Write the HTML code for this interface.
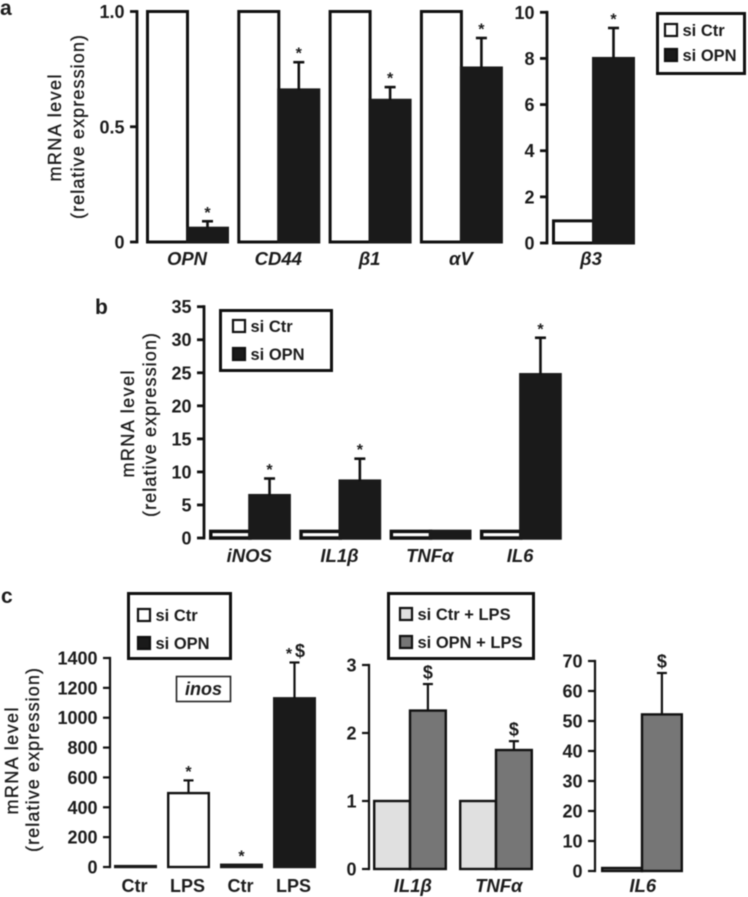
<!DOCTYPE html>
<html lang="en">
<head>
<meta charset="utf-8">
<title>mRNA level chart</title>
<style>
html,body{margin:0;padding:0;background:#fff;width:748px;height:897px;overflow:hidden}
svg{display:block;filter:blur(0.4px)}
text{font-family:"Liberation Sans",sans-serif;font-weight:bold;fill:#1c1c1c}
</style>
</head>
<body>
<svg id="chart" xmlns="http://www.w3.org/2000/svg" width="748" height="897" viewBox="0 0 748 897"></svg>
<script>
/* Panel a, left */
const aCategories = ['OPN', 'CD44', 'β1', 'αV'];
const aTicks = ['0', '0.5', '1.0'];
const aCtr = [1, 1, 1, 1];
const aOpn = [0.06, 0.66, 0.615, 0.755];
const aErr = [0.09, 0.78, 0.672, 0.885];
const aMarks = ['*', '*', '*', '*'];
/* Panel a, right */
const a2Categories = ['β3'];
const a2Ticks = ['0', '2', '4', '6', '8', '10'];
const a2Ctr = [0.96];
const a2Opn = [8.0];
const a2Err = [9.32];
const a2Marks = ['*'];
/* Panel b */
const bCategories = ['iNOS', 'IL1β', 'TNFα', 'IL6'];
const bTicks = ['0', '5', '10', '15', '20', '25', '30', '35'];
const bCtr = [1, 1, 1, 1];
const bOpn = [6.4, 8.6, 1, 24.7];
const bErr = [9, 12, null, 30.3];
const bMarks = ['*', '*', '', '*'];
/* Panel c, left */
const cCategories = ['Ctr', 'LPS', 'Ctr', 'LPS'];
const cTicks = ['0', '200', '400', '600', '800', '1000', '1200', '1400'];
const cValues = [6, 495, 15, 1130];
const cErr = [null, 580, null, 1370];
const cMarks = ['', '*', '*', '*$'];
/* Panel c, middle */
const c2Categories = ['IL1β', 'TNFα'];
const c2Ticks = ['0', '1', '2', '3'];
const c2Ctr = [1, 1];
const c2Opn = [2.33, 1.75];
const c2Err = [2.72, 1.88];
const c2Marks = ['$', '$'];
/* Panel c, right */
const c3Categories = ['IL6'];
const c3Ticks = ['0', '10', '20', '30', '40', '50', '60', '70'];
const c3Ctr = [1];
const c3Opn = [52.2];
const c3Err = [66];
const c3Marks = ['$'];

const svg = document.getElementById('chart');
const NS = 'http://www.w3.org/2000/svg';

function mk(tag, attrs, name, parent) {
  const el = document.createElementNS(NS, tag);
  for (const k in attrs) el.setAttribute(k, attrs[k]);
  
  
  (parent || svg).appendChild(el);
  return el;
}
function txt(str, x, y, size, anchor, name, opts) {
  const o = opts || {};
  const attrs = {x: x, y: y, 'font-size': size, 'text-anchor': anchor};
  if (o.italic) attrs['font-style'] = 'italic';
  if (o.rotate) attrs.transform = 'rotate(-90 ' + x + ' ' + y + ')';
  if (o.len) { attrs.textLength = o.len; attrs.lengthAdjust = 'spacing'; }
  const el = mk('text', attrs, name);
  if (o.light) {
    el.style.fontWeight = 'normal';
    el.style.stroke = '#1c1c1c';
    el.style.strokeWidth = '0.35px';
  }
  el.textContent = str;
  return el;
}
function yScale(max, yZero, yMax) {
  return function (v) { return yZero + (yMax - yZero) * v / max; };
}
function slug(s) { return s.toLowerCase().replace(/[^a-z0-9]+/g, '') || 'x'; }

function drawAxis(p, ticks, scale) {
  const tickVals = ticks.map(Number);
  const top = scale(tickVals[tickVals.length - 1]);
  const bottom = scale(0);
  mk('line', {x1: p.axisX, x2: p.axisX, y1: top - p.axisW / 2, y2: bottom + p.axisW / 2, stroke: '#111', 'stroke-width': p.axisW}, p.id + '-y-axis');
  ticks.forEach(function (t) {
    const y = scale(Number(t));
    mk('line', {x1: p.axisX - 7, x2: p.axisX, y1: y, y2: y, stroke: '#111', 'stroke-width': p.axisW}, p.id + '-y-tick');
    txt(t, p.axisX - 12.5, y + 6.5, 18, 'end', p.id + '-y-tick-label');
  });
}
function drawBar(name, x, w, v, scale, fill, stroke, sw) {
  const top = scale(v), bottom = scale(0);
  mk('rect', {x: x + sw / 2, y: top, width: w - sw, height: Math.max(bottom - top, 0.2), fill: fill, stroke: stroke, 'stroke-width': sw, 'stroke-linejoin': 'miter'}, name);
}
function drawErr(name, cx, v, e, scale, stroke, sw, cap) {
  if (e === null || e === undefined) return;
  mk('line', {x1: cx, x2: cx, y1: scale(v), y2: scale(e), stroke: stroke, 'stroke-width': sw}, name + '-error-bar');
  mk('line', {x1: cx - cap / 2, x2: cx + cap / 2, y1: scale(e), y2: scale(e), stroke: stroke, 'stroke-width': sw}, name + '-error-cap');
}
function drawMark(mark, cx, refY) {
  const chars = Array.from(mark);
  chars.forEach(function (c, i) {
    const x = cx + (i - (chars.length - 1) / 2) * 11;
    if (c === '*') txt(c, x, refY - 3.5, 16, 'middle', 'significance-star');
    else txt(c, x, refY - 5.5, 18, 'middle', 'significance-dollar');
  });
}
function drawGrouped(p, cats, ticks, ctr, opn, err, marks) {
  const max = Number(ticks[ticks.length - 1]);
  const scale = yScale(max, p.y0, p.y1);
  cats.forEach(function (c, i) {
    const gx = p.x0 + i * p.step;
    const key = p.id + '-' + slug(c);
    drawBar(key + '-ctr-bar', gx, p.w + p.sw, ctr[i], scale, p.ctrFill, p.ctrStroke, p.sw);
    const ox = gx + p.w;
    drawBar(key + '-opn-bar', ox, p.w + p.sw, opn[i], scale, p.opnFill, p.opnStroke, p.sw);
    const cx = ox + (p.w + p.sw) / 2;
    drawErr(key, cx, opn[i], err[i], scale, p.errStroke, p.errW, p.cap);
    const refV = err[i] === null ? opn[i] : err[i];
    if (marks[i]) drawMark(marks[i], cx, scale(refV));
    txt(c, gx + p.w + p.labelDx, p.labelY, 18.5, 'middle', key + '-label', {italic: true});
  });
  drawAxis(p, ticks, scale);
}
function drawLegend(id, box, sw, entries) {
  mk('rect', {x: box[0] + sw / 2, y: box[1] + sw / 2, width: box[2] - box[0] - sw, height: box[3] - box[1] - sw, fill: '#fff', stroke: '#111', 'stroke-width': sw}, id + '-box');
  entries.forEach(function (e) {
    mk('rect', {x: e.x + 1, y: e.y + 1, width: 12, height: 12, fill: e.fill, stroke: '#111', 'stroke-width': 2.2}, id + '-swatch');
    txt(e.label, e.x + 18.5, e.y + 13, 16.5, 'start', id + '-entry');
  });
}
function drawYTitle(id, x1, y1, x2, y2) {
  txt('mRNA level', x1, y1, 18, 'middle', id + '-y-title-line-1', {rotate: true, len: 107, light: true});
  txt('(relative expression)', x2, y2, 18, 'middle', id + '-y-title-line-2', {rotate: true, len: 184, light: true});
}

const BLK = '#1a1a1a';
const GRY = '#767676';
const LGT = '#e0e0e0';

/* Panel letters */
txt('a', 0, 15, 21, 'start', 'panel-a-letter');
txt('b', 95, 314, 21, 'start', 'panel-b-letter');
txt('c', 1, 603, 21, 'start', 'panel-c-letter');

/* Panel a */
drawGrouped({id: 'panel-a', axisX: 137, axisW: 2.8, y0: 242, y1: 11.5, x0: 146, step: 91.3, w: 40, sw: 3,
  ctrFill: '#fff', ctrStroke: '#111', opnFill: BLK, opnStroke: BLK, errStroke: '#111', errW: 2.6, cap: 11, labelDx: 1, labelY: 265},
  aCategories, aTicks, aCtr, aOpn, aErr, aMarks);
drawGrouped({id: 'panel-a-beta3', axisX: 547, axisW: 2.8, y0: 243, y1: 12.3, x0: 552, step: 90, w: 40, sw: 3,
  ctrFill: '#fff', ctrStroke: '#111', opnFill: BLK, opnStroke: BLK, errStroke: '#111', errW: 2.6, cap: 11, labelDx: -1, labelY: 265},
  a2Categories, a2Ticks, a2Ctr, a2Opn, a2Err, a2Marks);
drawYTitle('panel-a', 61, 128, 84, 127);
drawLegend('panel-a-legend', [656, 12, 746, 75], 3, [
  {x: 664, y: 23, fill: '#fff', label: 'si Ctr'},
  {x: 664, y: 48, fill: BLK, label: 'si OPN'}
]);

/* Panel b */
drawGrouped({id: 'panel-b', axisX: 204, axisW: 2.8, y0: 538, y1: 306.7, x0: 209, step: 90.3, w: 39.2, sw: 3.5,
  ctrFill: '#fff', ctrStroke: '#111', opnFill: BLK, opnStroke: BLK, errStroke: '#111', errW: 2.6, cap: 11, labelDx: 1, labelY: 562},
  bCategories, bTicks, bCtr, bOpn, bErr, bMarks);
drawYTitle('panel-b', 134, 424, 156, 425);
drawLegend('panel-b-legend', [219, 309, 333, 372], 3, [
  {x: 232, y: 319, fill: '#fff', label: 'si Ctr'},
  {x: 232, y: 347, fill: BLK, label: 'si OPN'}
]);

/* Panel c, left */
(function () {
  const p = {id: 'panel-c-inos', axisX: 110, axisW: 2.2};
  const scale = yScale(1400, 867, 658);
  const x0 = 114, step = 53, w = 43, sw = 2.4;
  cCategories.forEach(function (c, i) {
    const x = x0 + i * step;
    const key = p.id + '-' + slug(c) + '-' + i;
    drawBar(key + '-bar', x, w, cValues[i], scale, i === 1 ? '#fff' : BLK, i === 1 ? '#111' : BLK, sw);
    drawErr(key, x + w / 2, cValues[i], cErr[i], scale, '#111', 2.2, 10);
    const refV = cErr[i] === null ? cValues[i] : cErr[i];
    if (cMarks[i]) drawMark(cMarks[i], x + w / 2, scale(refV));
    txt(c, x + w / 2 - 1, 892, 18, 'middle', key + '-label');
  });
  drawAxis(p, cTicks, scale);
})();
drawYTitle('panel-c', 18, 761, 39, 760);
drawLegend('panel-c-legend', [127, 592, 232, 660], 3, [
  {x: 137, y: 608, fill: '#fff', label: 'si Ctr'},
  {x: 137, y: 636, fill: BLK, label: 'si OPN'}
]);
mk('rect', {x: 176.5, y: 676.5, width: 54, height: 25, fill: '#fff', stroke: '#222', 'stroke-width': 1.6}, 'inos-label-box');
txt('inos', 203.5, 695, 18, 'middle', 'inos-label', {italic: true});

/* Panel c, middle */
drawGrouped({id: 'panel-c-mid', axisX: 369, axisW: 2.2, y0: 869, y1: 665, x0: 373, step: 86, w: 35.8, sw: 2.4,
  ctrFill: LGT, ctrStroke: '#111', opnFill: GRY, opnStroke: '#111', errStroke: '#111', errW: 2.2, cap: 10, labelDx: 4, labelY: 892},
  c2Categories, c2Ticks, c2Ctr, c2Opn, c2Err, c2Marks);
drawLegend('panel-c-mid-legend', [387, 592, 535, 660], 3, [
  {x: 399, y: 607, fill: LGT, label: 'si Ctr + LPS'},
  {x: 399, y: 635, fill: GRY, label: 'si OPN + LPS'}
]);

/* Panel c, right */
drawGrouped({id: 'panel-c-il6', axisX: 595, axisW: 2.2, y0: 871, y1: 661, x0: 601, step: 80, w: 39.8, sw: 2.4,
  ctrFill: GRY, ctrStroke: '#111', opnFill: GRY, opnStroke: '#111', errStroke: '#111', errW: 2.2, cap: 10, labelDx: 2, labelY: 892},
  c3Categories, c3Ticks, c3Ctr, c3Opn, c3Err, c3Marks);
</script>
</body>
</html>
